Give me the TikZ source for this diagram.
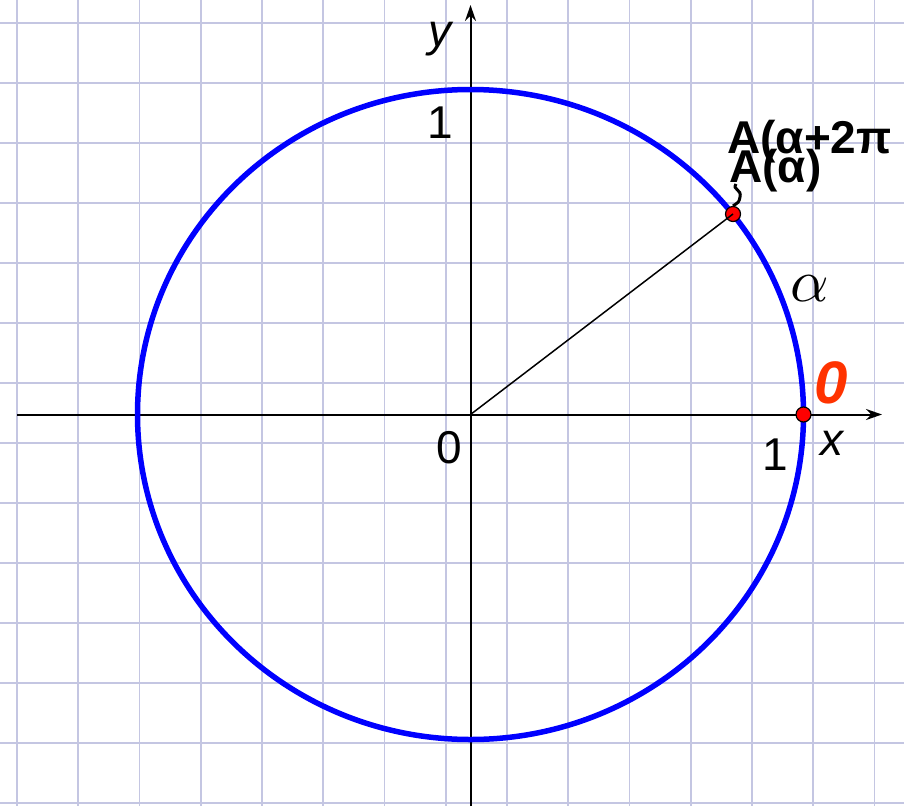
\documentclass[tikz,border=0pt]{standalone}
\usepackage{fontspec}
\setmainfont{Liberation Sans}
\usetikzlibrary{arrows.meta}
\definecolor{gridc}{RGB}{196,198,226}
\definecolor{circc}{RGB}{0,0,255}
\definecolor{zeroc}{RGB}{255,51,0}
\tikzset{
  gridline/.style={draw=gridc,line width=1.8},
  axis/.style={draw=black,line width=2,-{Stealth[length=16,width=11]}},
  unitcircle/.style={draw=circc,line width=5.5},
  dotpt/.style={circle,fill=red,draw=black,line width=1.2,minimum size=15,inner sep=0},
  lbl/.style={inner sep=0,font=\fontsize{46}{50}\selectfont},
  blbl/.style={inner sep=0,font=\fontsize{46}{50}\selectfont\bfseries}
}
\begin{document}
\begin{tikzpicture}[x=1pt,y=-1pt]
\useasboundingbox (0,0) rectangle (904,806);
\fill[white] (0,0) rectangle (904,806);
% grid
\foreach \k in {0,...,14} \draw[gridline] ({17+61.25*\k},0) -- ({17+61.25*\k},806);
\foreach \k in {0,...,13} \draw[gridline] (0,{23+60*\k}) -- (904,{23+60*\k});
% coordinates
\coordinate (O) at (470.5,414.5);
\coordinate (xl) at (17,414.5);
\coordinate (xr) at (882,414.5);
\coordinate (yb) at (470.5,806);
\coordinate (yt) at (470.5,5);
% axes
\draw[axis] (xl) -- (xr);
\draw[axis] (yb) -- (yt);
% circle
\draw[unitcircle] (O) ellipse [x radius=333, y radius=325];
% radius
\node[dotpt] (A) at (733,214) {};
\draw[black,line width=1.5] (O) -- (A.center);
\node[dotpt] (P0) at (803.5,414.5) {};
% labels
\node[blbl,anchor=base west] (L2) at (727,153) {A(α+2π};
\node[blbl,anchor=base west] (L1) at (729,182) {A(α)};
\coordinate (sq1) at (736,184);
\draw[black,line width=3] (sq1) .. controls (732,190) and (742,189) .. (740,197) .. controls (739,202) .. (A.north);
\node[inner sep=0,anchor=base west] (alab) at (790,301) {\scalebox{6}{$\alpha$}};
\node[inner sep=0,anchor=base west,text=zeroc,font=\fontsize{60}{62}\selectfont\bfseries\itshape] (zlab) at (814,403) {0};
\node[lbl,anchor=base west,font=\fontsize{46}{50}\selectfont\itshape] (xlab) at (820,455) {x};
\node[lbl,anchor=base] (one1) at (775,470) {1};
\node[lbl,anchor=base] (zero) at (449.5,463) {0};
\node[lbl,anchor=base] (one2) at (440,138) {1};
\node[lbl,anchor=base,font=\fontsize{46}{50}\selectfont\itshape] (ylab) at (440,46) {y};
\end{tikzpicture}
\end{document}
